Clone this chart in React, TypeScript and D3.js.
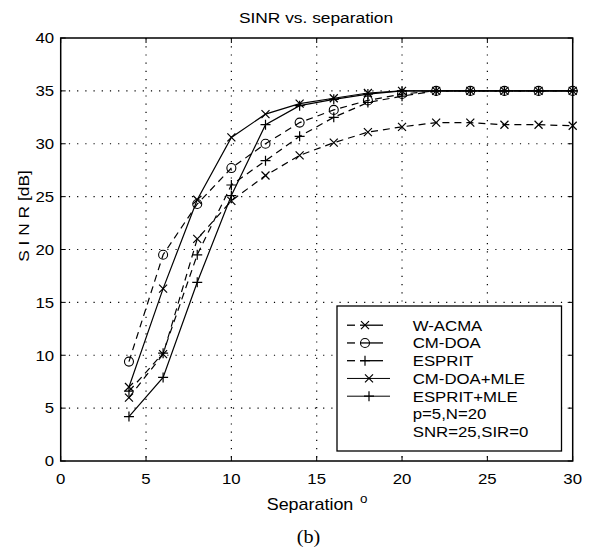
import React from 'react'
import { scaleLinear, line } from 'd3'

const separation = [4, 6, 8, 10, 12, 14, 16, 18, 20, 22, 24, 26, 28, 30]
const wAcma = [6.0, 10.1, 21.0, 24.6, 27.0, 28.9, 30.1, 31.1, 31.6, 32.0, 32.0, 31.8, 31.8, 31.7]
const cmDoa = [9.4, 19.5, 24.3, 27.7, 30.0, 32.0, 33.2, 34.1, 34.7, 35.0, 35.0, 35.0, 35.0, 35.0]
const esprit = [6.6, 10.2, 19.5, 26.1, 28.4, 30.7, 32.5, 33.9, 34.5, 35.0, 35.0, 35.0, 35.0, 35.0]
const cmDoaMle = [7.0, 16.3, 24.7, 30.6, 32.8, 33.8, 34.3, 34.8, 35.0, 35.0, 35.0, 35.0, 35.0, 35.0]
const espritMle = [4.2, 7.9, 16.9, 25.1, 31.8, 33.6, 34.2, 34.7, 35.0, 35.0, 35.0, 35.0, 35.0, 35.0]

const xTicks = [0, 5, 10, 15, 20, 25, 30]
const yTicks = [0, 5, 10, 15, 20, 25, 30, 35, 40]
const legendNotes = ['p=5,N=20', 'SNR=25,SIR=0']

const series = [
  { name: 'W-ACMA', values: wAcma, marker: 'x', dashed: true },
  { name: 'CM-DOA', values: cmDoa, marker: 'o', dashed: true },
  { name: 'ESPRIT', values: esprit, marker: '+', dashed: true },
  { name: 'CM-DOA+MLE', values: cmDoaMle, marker: 'x', dashed: false },
  { name: 'ESPRIT+MLE', values: espritMle, marker: '+', dashed: false },
]

const font = 'Liberation Sans, Arial, Helvetica, sans-serif'
const stretch = 1.12

// scanned text is a bit wider than the font, so stretch it horizontally
const Label = ({ x, y, size, anchor = 'start', family = font, children }) => (
  <text
    transform={`translate(${x},${y}) scale(${stretch},1)`}
    textAnchor={anchor}
    fontFamily={family}
    fontSize={size}
  >
    {children}
  </text>
)

const Marker = ({ type, cx, cy }) => {
  if (type === 'o') return <circle cx={cx} cy={cy} r={4.5} fill="none" stroke="black" strokeWidth={1.1} />
  if (type === 'x')
    return (
      <path d={`M${cx - 4},${cy - 4}L${cx + 4},${cy + 4}M${cx - 4},${cy + 4}L${cx + 4},${cy - 4}`} stroke="black" strokeWidth={1.2} />
    )
  return <path d={`M${cx - 5},${cy}L${cx + 5},${cy}M${cx},${cy - 5}L${cx},${cy + 5}`} stroke="black" strokeWidth={1.2} />
}

const App = () => {
  const left = 60.7, right = 572.7, top = 38, bottom = 461
  const x = scaleLinear().domain([0, 30]).range([left, right])
  const y = scaleLinear().domain([0, 40]).range([bottom, top])
  const path = line<number>().x((d, i) => x(separation[i])).y(d => y(d))

  // legend box
  const lx = 337, ly = 306, lw = 224.5, lh = 145
  const rowY = (i) => 330.7 + i * 17.75

  return (
    <svg width={594} height={551} style={{ position: 'absolute', left: 0, top: 0, background: 'white' }}>
      <rect width={594} height={551} fill="white" />
      {/* grid */}
      {xTicks.slice(1, -1).map(t => (
        <line key={`gx${t}`} x1={x(t)} x2={x(t)} y1={top} y2={bottom} stroke="black" strokeWidth={1.2} strokeDasharray="1.2,7" />
      ))}
      {yTicks.slice(1, -1).map(t => (
        <line key={`gy${t}`} x1={left} x2={right} y1={y(t)} y2={y(t)} stroke="black" strokeWidth={1.2} strokeDasharray="1.2,7" />
      ))}
      {/* ticks inward */}
      {xTicks.map(t => (
        <g key={`tx${t}`}>
          <line x1={x(t)} x2={x(t)} y1={bottom} y2={bottom - 5} stroke="black" />
          <line x1={x(t)} x2={x(t)} y1={top} y2={top + 5} stroke="black" />
          <Label x={x(t)} y={bottom + 23} size={15} anchor="middle">{t}</Label>
        </g>
      ))}
      {yTicks.map(t => (
        <g key={`ty${t}`}>
          <line x1={left} x2={left + 5} y1={y(t)} y2={y(t)} stroke="black" />
          <line x1={right} x2={right - 5} y1={y(t)} y2={y(t)} stroke="black" />
          <Label x={left - 6.5} y={y(t) + 5.3} size={15} anchor="end">{t}</Label>
        </g>
      ))}
      <rect x={left} y={top} width={right - left} height={bottom - top} fill="none" stroke="black" strokeWidth={1.5} />

      {/* series */}
      {series.map(s => (
        <g key={s.name}>
          <path d={path(s.values)} fill="none" stroke="black" strokeWidth={1.2} strokeDasharray={s.dashed ? '7,5' : undefined} />
          {s.values.map((v, i) => (
            <Marker key={i} type={s.marker} cx={x(separation[i])} cy={y(v)} />
          ))}
        </g>
      ))}

      {/* legend */}
      <rect x={lx} y={ly} width={lw} height={lh} fill="white" stroke="black" strokeWidth={1.3} />
      {series.map((s, i) => {
        const cy = rowY(i) - 5.5
        return (
          <g key={`lg${s.name}`}>
            {s.dashed ? (
              <>
                <line x1={347} x2={355} y1={cy} y2={cy} stroke="black" strokeWidth={1.3} />
                <line x1={360} x2={383} y1={cy} y2={cy} stroke="black" strokeWidth={1.3} />
              </>
            ) : (
              <line x1={347} x2={390} y1={cy} y2={cy} stroke="black" strokeWidth={1} />
            )}
            <Marker type={s.marker} cx={s.dashed ? 365 : 369} cy={cy} />
            <Label x={412.7} y={rowY(i)} size={15}>{s.name}</Label>
          </g>
        )
      })}
      {legendNotes.map((n, i) => (
        <Label key={n} x={412.7} y={rowY(series.length + i)} size={15}>{n}</Label>
      ))}

      {/* labels */}
      <Label x={316} y={22.5} size={15.5} anchor="middle">SINR vs. separation</Label>
      <Label x={310} y={510} size={16} anchor="middle">Separation</Label>
      <Label x={360} y={503} size={12}>o</Label>
      <text transform={`translate(29,216) rotate(-90) scale(${stretch},1)`} textAnchor="middle" fontFamily={font} fontSize={15.5}>S I N R [dB]</text>
      <Label x={308.5} y={543} size={18} anchor="middle" family="Liberation Serif, Times New Roman, serif">(b)</Label>
    </svg>
  )
}

export default App
